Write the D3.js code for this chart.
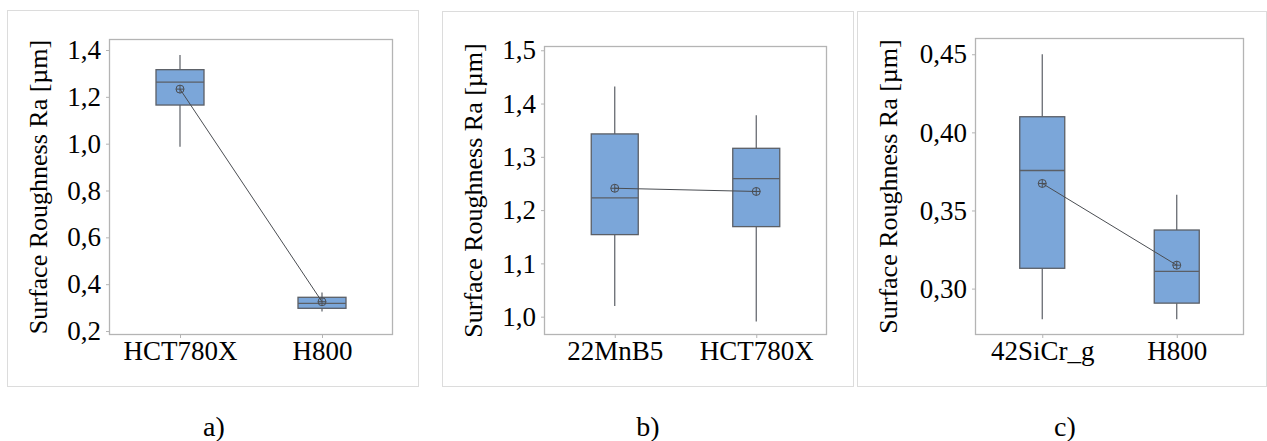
<!DOCTYPE html>
<html>
<head>
<meta charset="utf-8">
<script src="https://cdn.jsdelivr.net/npm/d3@7"></script>
<style>
  html, body { margin: 0; padding: 0; background: #fff; }
  svg { display: block; }
  text { font-family: "Liberation Serif", "Times New Roman", serif; fill: #000; }
</style>
</head>
<body>
<svg id="chart" width="1267" height="441"></svg>
<script>
// Panel a) HCT780X vs H800
const catsA = ["HCT780X", "H800"];
const statsA = [
  { lo: 0.987, q1: 1.165, med: 1.263, q3: 1.316, hi: 1.379, mean: 1.233 },
  { lo: 0.283, q1: 0.297, med: 0.318, q3: 0.344, hi: 0.365, mean: 0.325 }
];
const ticksA = [0.2, 0.4, 0.6, 0.8, 1.0, 1.2, 1.4];
const tickLabelsA = ["0,2", "0,4", "0,6", "0,8", "1,0", "1,2", "1,4"];

// Panel b) 22MnB5 vs HCT780X
const catsB = ["22MnB5", "HCT780X"];
const statsB = [
  { lo: 1.020, q1: 1.154, med: 1.223, q3: 1.343, hi: 1.432, mean: 1.241 },
  { lo: 0.991, q1: 1.169, med: 1.259, q3: 1.316, hi: 1.378, mean: 1.235 }
];
const ticksB = [1.0, 1.1, 1.2, 1.3, 1.4, 1.5];
const tickLabelsB = ["1,0", "1,1", "1,2", "1,3", "1,4", "1,5"];

// Panel c) 42SiCr_g vs H800
const catsC = ["42SiCr_g", "H800"];
const statsC = [
  { lo: 0.2804, q1: 0.313, med: 0.3756, q3: 0.410, hi: 0.450, mean: 0.3673 },
  { lo: 0.2804, q1: 0.2907, med: 0.311, q3: 0.3375, hi: 0.360, mean: 0.315 }
];
const ticksC = [0.30, 0.35, 0.40, 0.45];
const tickLabelsC = ["0,30", "0,35", "0,40", "0,45"];

const panelLabels = ["a)", "b)", "c)"];
const yTitle = "Surface Roughness Ra [\u00b5m]";

const svg = d3.select("#chart");

const panels = [
  { cats: catsA, stats: statsA, ticks: ticksA, tickLabels: tickLabelsA,
    frame: [7, 10, 419, 387], plot: [109, 39, 393, 335], domain: [0.183, 1.447],
    boxW: 48, titleX: 38, label: panelLabels[0], labelX: 214 },
  { cats: catsB, stats: statsB, ticks: ticksB, tickLabels: tickLabelsB,
    frame: [442, 11, 854, 387], plot: [544, 46, 827, 335], domain: [0.9656, 1.508],
    boxW: 47, titleX: 473, label: panelLabels[1], labelX: 648 },
  { cats: catsC, stats: statsC, ticks: ticksC, tickLabels: tickLabelsC,
    frame: [857, 11, 1267, 387], plot: [975, 38, 1244, 335], domain: [0.2703, 0.4604],
    boxW: 45, titleX: 888, label: panelLabels[2], labelX: 1065 }
];

const boxFill = "#7ba6d9";
const boxStroke = "#5b5f66";
const serif = "'Liberation Serif', 'Times New Roman', serif";

panels.forEach(p => {
  const [fx0, fy0, fx1, fy1] = p.frame;
  const [px0, py0, px1, py1] = p.plot;

  // outer panel frame
  svg.append("rect")
    .attr("x", fx0 + 0.5).attr("y", fy0 + 0.5)
    .attr("width", fx1 - fx0 - 1).attr("height", fy1 - fy0 - 1)
    .attr("fill", "none").attr("stroke", "#dcdcdc").attr("stroke-width", 1);

  const y = d3.scaleLinear().domain(p.domain).range([py1, py0]);
  const x = d3.scalePoint().domain(p.cats).range([px0, px1]).padding(0.5);

  const g = svg.append("g");

  // plot frame
  g.append("rect")
    .attr("x", px0 + 0.5).attr("y", py0 + 0.5)
    .attr("width", px1 - px0 - 1).attr("height", py1 - py0 - 1)
    .attr("fill", "#fff").attr("stroke", "#b4b4b4").attr("stroke-width", 1.3);

  // y axis
  const yAxis = d3.axisLeft(y).tickValues(p.ticks)
    .tickFormat((d, i) => p.tickLabels[i]).tickSize(3).tickPadding(5);
  const ya = g.append("g").attr("transform", `translate(${px0},0)`).call(yAxis);
  ya.select(".domain").remove();
  ya.selectAll(".tick line").attr("stroke", "#b4b4b4");
  ya.selectAll(".tick text")
    .style("font-family", serif).style("font-size", "27px").attr("fill", "#000");

  // x axis
  const xAxis = d3.axisBottom(x).tickSize(3).tickPadding(3);
  const xa = g.append("g").attr("transform", `translate(0,${py1})`).call(xAxis);
  xa.select(".domain").remove();
  xa.selectAll(".tick line").attr("stroke", "#b4b4b4");
  xa.selectAll(".tick text")
    .style("font-family", serif).style("font-size", "27px").attr("fill", "#000");

  // y axis title
  svg.append("text")
    .attr("transform", `translate(${p.titleX},${(py0 + py1) / 2}) rotate(-90)`)
    .attr("text-anchor", "middle").attr("dominant-baseline", "central")
    .style("font-size", "26px")
    .text(yTitle);

  // boxes
  const boxes = g.selectAll("g.box").data(p.stats).enter().append("g").attr("class", "box");
  boxes.append("line")
    .attr("x1", (d, i) => x(p.cats[i])).attr("x2", (d, i) => x(p.cats[i]))
    .attr("y1", d => y(d.hi)).attr("y2", d => y(d.q3))
    .attr("stroke", boxStroke).attr("stroke-width", 1.2);
  boxes.append("line")
    .attr("x1", (d, i) => x(p.cats[i])).attr("x2", (d, i) => x(p.cats[i]))
    .attr("y1", d => y(d.q1)).attr("y2", d => y(d.lo))
    .attr("stroke", boxStroke).attr("stroke-width", 1.2);
  boxes.append("rect")
    .attr("x", (d, i) => x(p.cats[i]) - p.boxW / 2)
    .attr("y", d => y(d.q3))
    .attr("width", p.boxW)
    .attr("height", d => y(d.q1) - y(d.q3))
    .attr("fill", boxFill).attr("stroke", boxStroke).attr("stroke-width", 1.3);
  boxes.append("line")
    .attr("x1", (d, i) => x(p.cats[i]) - p.boxW / 2).attr("x2", (d, i) => x(p.cats[i]) + p.boxW / 2)
    .attr("y1", d => y(d.med)).attr("y2", d => y(d.med))
    .attr("stroke", boxStroke).attr("stroke-width", 1.3);

  // line joining the means
  const line = d3.line().x((d, i) => x(p.cats[i])).y(d => y(d.mean));
  g.append("path").datum(p.stats)
    .attr("d", line).attr("fill", "none")
    .attr("stroke", "#4a4d52").attr("stroke-width", 1);

  // mean symbols (circle with cross)
  const means = g.selectAll("g.mean").data(p.stats).enter().append("g")
    .attr("transform", (d, i) => `translate(${x(p.cats[i])},${y(d.mean)})`);
  means.append("circle").attr("r", 4)
    .attr("fill", "none").attr("stroke", "#4a4d52").attr("stroke-width", 1);
  means.append("path").attr("d", "M-4,0H4M0,-4V4")
    .attr("stroke", "#4a4d52").attr("stroke-width", 1);

  // panel label
  svg.append("text")
    .attr("x", p.labelX).attr("y", 436)
    .attr("text-anchor", "middle")
    .style("font-size", "28px")
    .text(p.label);
});
</script>
</body>
</html>
